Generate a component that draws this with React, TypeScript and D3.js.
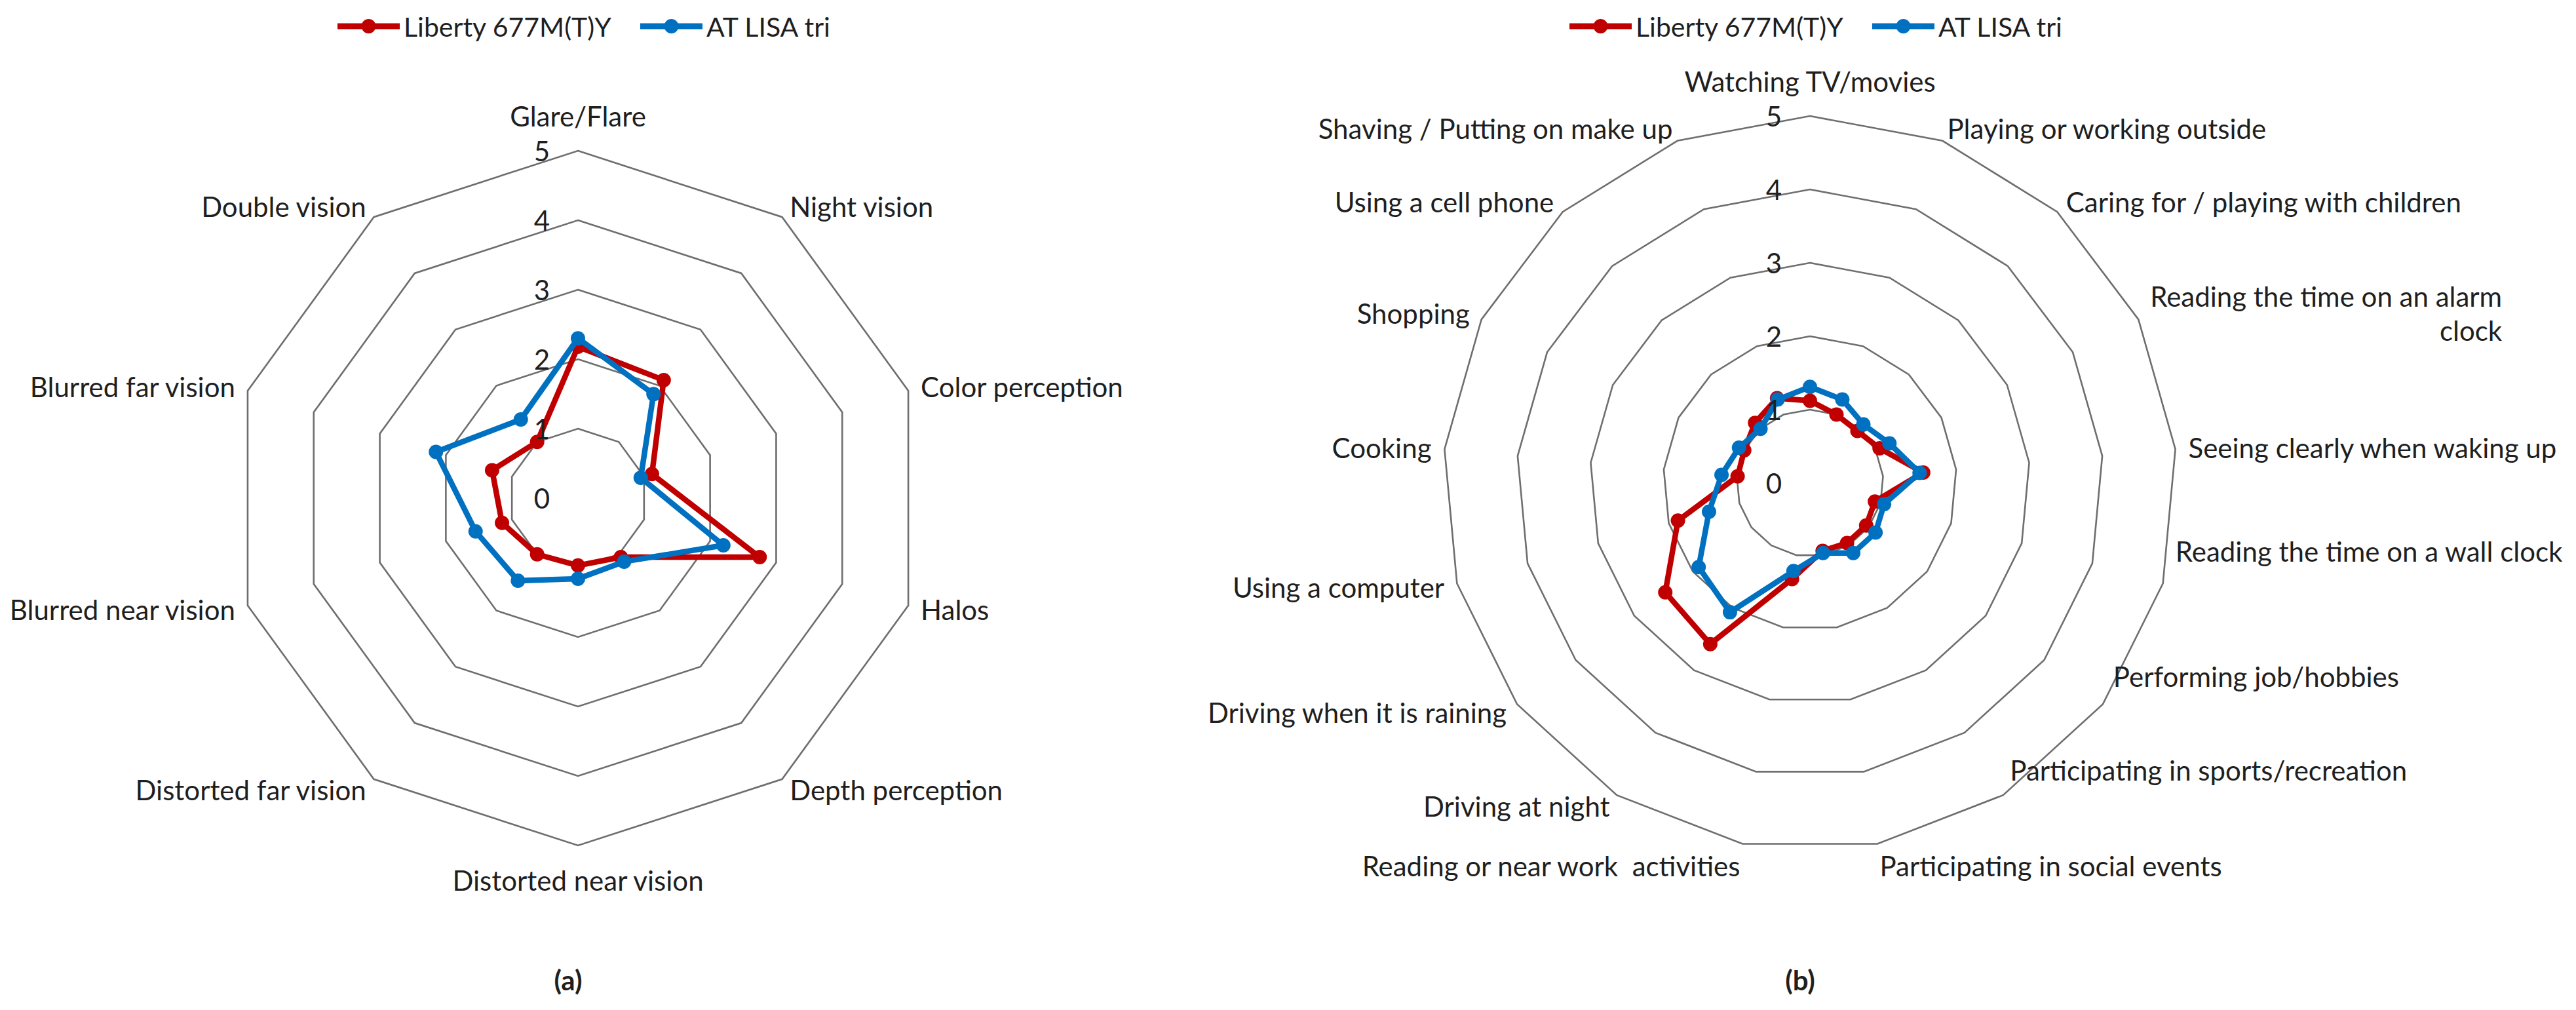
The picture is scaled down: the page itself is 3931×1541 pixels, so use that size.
// Two radar charts (a) and (b) drawn with D3
import React, { useEffect, useRef } from 'react';
import * as d3 from 'd3';

const W = 3931;
const H = 1541;

const seriesNames = ['Liberty 677M(T)Y', 'AT LISA tri'];
const seriesColors = ['#C00000', '#0070C0'];
const ticks = [0, 1, 2, 3, 4, 5];

const categoriesA = [
  'Glare/Flare',
  'Night vision',
  'Color perception',
  'Halos',
  'Depth perception',
  'Distorted near vision',
  'Distorted far vision',
  'Blurred near vision',
  'Blurred far vision',
  'Double vision',
];
const libertyA = [2.18, 2.1, 1.12, 2.75, 1.05, 0.97, 1.0, 1.15, 1.3, 1.0];
const lisaA = [2.3, 1.85, 0.95, 2.2, 1.13, 1.16, 1.47, 1.55, 2.15, 1.4];

const categoriesB = [
  'Watching TV/movies',
  'Playing or working outside',
  'Caring for / playing with children',
  'Reading the time on an alarm\nclock',
  'Seeing clearly when waking up',
  'Reading the time on a wall clock',
  'Performing job/hobbies',
  'Participating in sports/recreation',
  'Participating in social events',
  'Reading or near work  activities',
  'Driving at night',
  'Driving when it is raining',
  'Using a computer',
  'Cooking',
  'Shopping',
  'Using a cell phone',
  'Shaving / Putting on make up',
];
const libertyB = [1.12, 1.0, 0.96, 1.06, 1.55, 0.92, 0.96, 0.96, 0.94, 1.33, 2.58, 2.47, 1.87, 0.99, 1.0, 1.11, 1.24];
const lisaB = [1.31, 1.22, 1.08, 1.21, 1.5, 1.05, 1.12, 1.12, 0.97, 1.22, 2.07, 1.9, 1.43, 1.21, 1.08, 1.0, 1.22];

const FONT = 'Lato, "Open Sans", sans-serif';
const TEXT = '#1f1f1f';

type Panel = {
  cats: string[];
  values: number[][];
  cx: number;
  cy: number;
  radius: number;
  caption: string;
  lowerRightLift: number; // Excel nudges the lower-right labels of (b) upward
};

function drawRadar(g: d3.Selection<SVGGElement, unknown, null, undefined>, p: Panel) {
  const n = p.cats.length;
  const angle = d3.scaleLinear().domain([0, n]).range([0, 2 * Math.PI]);
  const r = d3.scaleLinear().domain([0, 5]).range([0, p.radius]);
  const ring = d3
    .lineRadial<number>()
    .angle((_, i) => angle(i))
    .radius(d => r(d))
    .curve(d3.curveLinearClosed);

  const chart = g.append('g').attr('transform', `translate(${p.cx},${p.cy})`);

  // grid rings
  chart
    .selectAll('path.grid')
    .data(ticks.slice(1))
    .join('path')
    .attr('class', 'grid')
    .attr('d', t => ring(p.cats.map(() => t)))
    .attr('fill', 'none')
    .attr('stroke', '#6e6e6e')
    .attr('stroke-width', 2.6);

  // series
  p.values.forEach((vals, si) => {
    const color = seriesColors[si];
    chart
      .append('path')
      .attr('d', ring(vals))
      .attr('fill', 'none')
      .attr('stroke', color)
      .attr('stroke-width', 8.5)
      .attr('stroke-linejoin', 'round');
    chart
      .append('g')
      .selectAll('circle')
      .data(vals)
      .join('circle')
      .attr('cx', (d, i) => r(d) * Math.sin(angle(i)))
      .attr('cy', (d, i) => -r(d) * Math.cos(angle(i)))
      .attr('r', 11)
      .attr('fill', color);
  });

  // tick labels along the top axis
  chart
    .selectAll('text.tick')
    .data(ticks)
    .join('text')
    .attr('class', 'tick')
    .attr('x', -55)
    .attr('y', t => -r(t))
    .attr('text-anchor', 'middle')
    .attr('dominant-baseline', 'central')
    .attr('font-family', FONT)
    .attr('font-size', 42)
    .attr('fill', TEXT)
    .text(t => String(t));

  // category labels
  const lineH = 52;
  p.cats.forEach((cat, i) => {
    const a = angle(i);
    const s = Math.sin(a);
    const c = Math.cos(a);
    const rr = p.radius + 20;
    const x = rr * s;
    let y = -rr * c;
    if (Math.abs(s) < 0.05) y += -c * 33;
    if (s > 0.3 && c < -0.05) y -= p.lowerRightLift;
    if (Math.abs(s) < 0.3 && c < -0.9 && p.lowerRightLift > 0) y += 14;
    const anchor = s > 0.05 ? 'start' : s < -0.05 ? 'end' : 'middle';
    const lines = cat.split('\n');
    const y0 = y - ((lines.length - 1) * lineH) / 2;
    let firstWidth = 0;
    lines.forEach((line, li) => {
      const t = chart
        .append('text')
        .attr('x', x)
        .attr('y', y0 + li * lineH)
        .attr('text-anchor', anchor)
        .attr('dominant-baseline', 'central')
        .attr('font-family', FONT)
        .attr('font-size', 42)
        .attr('fill', TEXT)
        .style('white-space', 'pre')
        .text(line);
      if (li === 0) {
        firstWidth = (t.node() as SVGTextElement).getComputedTextLength();
      } else if (anchor === 'start') {
        t.attr('x', x + firstWidth).attr('text-anchor', 'end');
      }
    });
  });

  // legend
  const legend = g.append('g').attr('transform', `translate(${p.cx - 367},40)`);
  seriesNames.forEach((name, si) => {
    const item = legend.append('g').attr('transform', `translate(${si * 462},0)`);
    item
      .append('line')
      .attr('x1', 0)
      .attr('x2', 95)
      .attr('stroke', seriesColors[si])
      .attr('stroke-width', 9);
    item.append('circle').attr('cx', 47.5).attr('r', 11).attr('fill', seriesColors[si]);
    item
      .append('text')
      .attr('x', 101)
      .attr('dominant-baseline', 'central')
      .attr('font-family', FONT)
      .attr('font-size', 41)
      .attr('fill', TEXT)
      .text(name);
  });

  // caption
  g.append('text')
    .attr('x', p.cx - 15)
    .attr('y', 1495)
    .attr('text-anchor', 'middle')
    .attr('dominant-baseline', 'central')
    .attr('font-family', FONT)
    .attr('font-size', 42)
    .attr('font-weight', 'bold')
    .attr('fill', TEXT)
    .text(p.caption);
}

const App = () => {
  const svgRef = useRef<SVGSVGElement>(null);

  useEffect(() => {
    if (!svgRef.current) return;
    const svg = d3.select(svgRef.current);
    svg.selectAll('*').remove();
    const g = svg.append('g');

    const panels: Panel[] = [
      { cats: categoriesA, values: [libertyA, lisaA], cx: 882, cy: 760, radius: 530, caption: '(a)', lowerRightLift: 0 },
      { cats: categoriesB, values: [libertyB, lisaB], cx: 2762, cy: 737, radius: 560, caption: '(b)', lowerRightLift: 55 },
    ];
    panels.forEach(p => drawRadar(g, p));
  }, []);

  return (
    <svg
      ref={svgRef}
      width={W}
      height={H}
      style={{ position: 'absolute', left: 0, top: 0, background: '#fff' }}
    />
  );
};

export default App;
